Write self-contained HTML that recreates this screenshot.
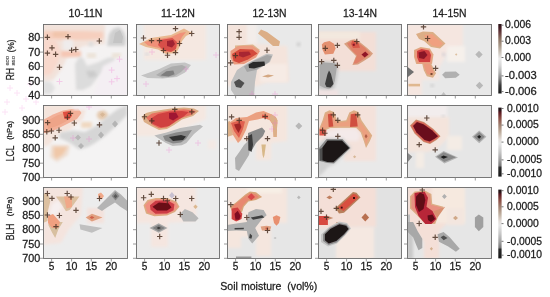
<!DOCTYPE html><html><head><meta charset="utf-8"><style>html,body{margin:0;padding:0;background:#fff;width:550px;height:297px;overflow:hidden}svg{display:block;will-change:transform}text{font-family:"Liberation Sans",sans-serif;fill:#1c1c1c;stroke:#1c1c1c;stroke-width:0.26px;paint-order:stroke}</style></head><body>
<svg width="550" height="297" viewBox="0 0 550 297">
<defs><linearGradient id="cb" x1="0" y1="0" x2="0" y2="1"><stop offset="0" stop-color="#2a1418"/><stop offset="0.05" stop-color="#3e1820"/><stop offset="0.13" stop-color="#6a4040"/><stop offset="0.21" stop-color="#8a7060"/><stop offset="0.31" stop-color="#a89888"/><stop offset="0.42" stop-color="#cfc8c0"/><stop offset="0.5" stop-color="#ebebeb"/><stop offset="0.6" stop-color="#d6d6d6"/><stop offset="0.7" stop-color="#b0b0b0"/><stop offset="0.79" stop-color="#808080"/><stop offset="0.88" stop-color="#3c3c3c"/><stop offset="1" stop-color="#181818"/></linearGradient><linearGradient id="cb2" x1="0" y1="0" x2="0" y2="1"><stop offset="0" stop-color="#1e1416"/><stop offset="0.04" stop-color="#2a1418"/><stop offset="0.07" stop-color="#5a1a22"/><stop offset="0.15" stop-color="#8a4a42"/><stop offset="0.25" stop-color="#a08070"/><stop offset="0.36" stop-color="#c0b0a0"/><stop offset="0.46" stop-color="#e2dcd8"/><stop offset="0.52" stop-color="#e6e6e6"/><stop offset="0.64" stop-color="#c8c8c8"/><stop offset="0.76" stop-color="#a0a0a0"/><stop offset="0.84" stop-color="#7a7a7a"/><stop offset="0.87" stop-color="#2a2a2a"/><stop offset="1" stop-color="#181818"/></linearGradient><filter id="bl" x="-5%" y="-5%" width="110%" height="110%"><feGaussianBlur stdDeviation="0.55"/></filter><filter id="bs" x="-20%" y="-20%" width="140%" height="140%"><feGaussianBlur stdDeviation="1.6"/></filter></defs>
<g stroke="#f070d0" stroke-width="1" fill="none" opacity="0.2" filter="url(#bl)">
<path d="M14 93H20M17 90V96"/>
<path d="M4 102H10M7 99V105"/>
<path d="M23 99H29M26 96V102"/>
<path d="M7 88H13M10 85V91"/>
<path d="M27 84H33M30 81V87"/>
<path d="M2 112H8M5 109V115"/>
<path d="M19 108H25M22 105V111"/>
<path d="M33 102H39M36 99V105"/>
</g>
<svg x="43" y="24" width="84" height="71" viewBox="0 0 84 71" overflow="hidden">
<rect x="0" y="0" width="84" height="71" fill="#f4f2f2"/>
<polygon filter="url(#bs)" fill="#f2e2da" points="0,0 62,0 62,20 40,22 24,34 18,46 10,56 0,58"/>
<polygon filter="url(#bs)" fill="#f6cfbe" points="0,7 42,7 60,8 60,15 42,16 0,16"/>
<polygon filter="url(#bs)" fill="#f0c4aa" points="10,8 25,8 25,13 10,13"/>
<polygon filter="url(#bs)" fill="#f8d8cc" points="0,16 13,16 18,30 14,40 8,50 0,52"/>
<polygon filter="url(#bs)" fill="#f5c6b4" points="18,27 38,27 38,33 18,33"/>
<polygon filter="url(#bs)" fill="#efecec" points="20,16 30,16 30,26 20,26"/>
<polygon filter="url(#bs)" fill="#d0d0d0" points="64,22 66,10 70,5 76,3 81,8 83,15 82,22"/>
<polygon filter="url(#bl)" fill="#c4c4c4" points="70,19 72,9 77,6 80,13 79,19"/>
<polygon filter="url(#bs)" fill="#dedede" points="46,18 50,18 51,21 48,23 45,21"/>
<polygon filter="url(#bs)" fill="#dcdcdc" points="32,40 36,33 40,34 44,42 56,38 64,34 72,33 72,40 62,48 55,53 48,62 40,66 33,66"/>
<polygon filter="url(#bs)" fill="#cbcbcb" points="43,47 52,47 54,52 46,54"/>
<polygon filter="url(#bs)" fill="#e0e0e0" points="0,57 8,58 12,64 8,70 0,70"/>
<polygon filter="url(#bs)" fill="#ece3d8" points="44,29 53,29 53,34 44,34"/>
<polygon filter="url(#bs)" fill="#ece3d8" points="69,29 78,29 78,34 69,34"/>
<polygon filter="url(#bs)" fill="#f4eff3" points="60,42 84,30 84,72 50,72"/>
<g filter="url(#bl)">
<g stroke="#f070d0" stroke-width="1" fill="none" opacity="0.3">
<path d="M73.5 35.2H79.5M76.5 32.2V38.2"/>
<path d="M65.7 46.1H71.7M68.7 43.1V49.1"/>
<path d="M13.5 57.5H19.5M16.5 54.5V60.5"/>
<path d="M65.7 57.8H71.7M68.7 54.8V60.8"/>
<path d="M71 54.6H77M74 51.6V57.6"/>
</g>
<g stroke="#4a3224" stroke-width="1.15" fill="none" opacity="0.85">
<path d="M1.7 13.3H7.1M4.4 10.6V16"/>
<path d="M22.3 12.6H27.7M25 9.9V15.3"/>
<path d="M53.6 17H59M56.3 14.3V19.7"/>
<path d="M6.3 23.8H11.7M9 21.1V26.5"/>
<path d="M1.7 29.1H7.1M4.4 26.4V31.8"/>
<path d="M9.9 30.3H15.3M12.6 27.6V33"/>
<path d="M25.9 26.2H31.3M28.6 23.5V28.9"/>
<path d="M30.1 25.5H35.5M32.8 22.8V28.2"/>
<path d="M13.8 43.2H19.2M16.5 40.5V45.9"/>
</g></g></svg>
<rect x="43.5" y="24.5" width="84" height="71" fill="none" stroke="#6a6a6a" stroke-width="0.9"/>
<line x1="51.6" y1="95.5" x2="51.6" y2="98.5" stroke="#808080" stroke-width="0.8"/>
<line x1="71.6" y1="95.5" x2="71.6" y2="98.5" stroke="#808080" stroke-width="0.8"/>
<line x1="91.3" y1="95.5" x2="91.3" y2="98.5" stroke="#808080" stroke-width="0.8"/>
<line x1="111.3" y1="95.5" x2="111.3" y2="98.5" stroke="#808080" stroke-width="0.8"/>
<line x1="40" y1="37.7" x2="43.5" y2="37.7" stroke="#808080" stroke-width="0.8"/>
<line x1="40" y1="52.1" x2="43.5" y2="52.1" stroke="#808080" stroke-width="0.8"/>
<line x1="40" y1="66.55" x2="43.5" y2="66.55" stroke="#808080" stroke-width="0.8"/>
<line x1="40" y1="81" x2="43.5" y2="81" stroke="#808080" stroke-width="0.8"/>
<line x1="40" y1="95.4" x2="43.5" y2="95.4" stroke="#808080" stroke-width="0.8"/>
<svg x="136" y="24" width="83" height="71" viewBox="0 0 83 71" overflow="hidden">
<rect x="0" y="0" width="83" height="71" fill="#ebebeb"/>
<polygon filter="url(#bs)" fill="#f5e8e1" points="8,0 70,0 70,36 8,36"/>
<polygon filter="url(#bl)" fill="#e9b890" points="3,20 15,14 35,11 45,6 48,4.5 56,9 50,12 46,17 43,24 40,29 30,30 22,25.5 10,23"/>
<polygon filter="url(#bl)" fill="#f09078" points="8,18 20,15.5 35,13 44,9 50,8 46,13 42,21 38.5,27 30,28.5 23,24 12,21.5"/>
<polygon filter="url(#bl)" fill="#d85048" points="24,16 36.4,14 41,18 40,25 35,28 27,26 22,21"/>
<polygon filter="url(#bl)" fill="#a02030" points="31,17 37,16 39,20 36,23.5 31,22"/>
<polygon filter="url(#bs)" fill="#d8d8dc" points="9,29 13,29 13,31.5 9,31.5"/>
<polygon filter="url(#bl)" fill="#c4c4c4" points="5,51.4 23.3,45 34.9,39.5 48.9,38.4 55,40.9 49,48.5 40.7,53.1 26.8,54.5 11.6,53.9"/>
<polygon filter="url(#bl)" fill="#acacac" points="20,51 28,46 36,42.5 46,41 50,43 45,48 38,52.5 26,53.5"/>
<polygon filter="url(#bl)" fill="#7e7e7e" points="24.4,51.4 30.3,47.3 37.3,46.5 38.6,50.2 32.6,52.6"/>
<g filter="url(#bl)">
<g stroke="#f070d0" stroke-width="1" fill="none" opacity="0.3">
<path d="M13 28H19M16 25V31"/>
<path d="M7 60H13M10 57V63"/>
<path d="M77 31H83M80 28V34"/>
<path d="M47 45H53M50 42V48"/>
</g>
<g stroke="#4a3224" stroke-width="1.15" fill="none" opacity="0.85">
<path d="M36.8 4.6H42.2M39.5 1.9V7.3"/>
<path d="M53 9.5H58.4M55.7 6.8V12.2"/>
<path d="M4.8 14H10.2M7.5 11.3V16.7"/>
<path d="M12.8 16.6H18.2M15.5 13.9V19.3"/>
<path d="M20.8 16.6H26.2M23.5 13.9V19.3"/>
<path d="M40.8 19.5H46.2M43.5 16.8V22.2"/>
<path d="M24.8 26.5H30.2M27.5 23.8V29.2"/>
<path d="M28.8 31.2H34.2M31.5 28.5V33.9"/>
<path d="M36.8 28.6H42.2M39.5 25.9V31.3"/>
</g></g></svg>
<rect x="136.5" y="24.5" width="83" height="71" fill="none" stroke="#6a6a6a" stroke-width="0.9"/>
<line x1="144.6" y1="95.5" x2="144.6" y2="98.5" stroke="#808080" stroke-width="0.8"/>
<line x1="164.6" y1="95.5" x2="164.6" y2="98.5" stroke="#808080" stroke-width="0.8"/>
<line x1="184.3" y1="95.5" x2="184.3" y2="98.5" stroke="#808080" stroke-width="0.8"/>
<line x1="204.3" y1="95.5" x2="204.3" y2="98.5" stroke="#808080" stroke-width="0.8"/>
<line x1="133" y1="37.7" x2="136.5" y2="37.7" stroke="#808080" stroke-width="0.8"/>
<line x1="133" y1="52.1" x2="136.5" y2="52.1" stroke="#808080" stroke-width="0.8"/>
<line x1="133" y1="66.55" x2="136.5" y2="66.55" stroke="#808080" stroke-width="0.8"/>
<line x1="133" y1="81" x2="136.5" y2="81" stroke="#808080" stroke-width="0.8"/>
<line x1="133" y1="95.4" x2="136.5" y2="95.4" stroke="#808080" stroke-width="0.8"/>
<svg x="227" y="24" width="84" height="71" viewBox="0 0 84 71" overflow="hidden">
<rect x="0" y="0" width="84" height="71" fill="#e9e9e9"/>
<polygon filter="url(#bs)" fill="#f4e4dc" points="0,0 20,0 30,20 60,22 62,58 40,58 30,62 0,62"/>
<polygon filter="url(#bs)" fill="#f3edea" points="20,0 30,0 30,20 20,20"/>
<polygon filter="url(#bs)" fill="#f6ebe5" points="33,40 60,40 60,58 33,58"/>
<polygon filter="url(#bl)" fill="#dcae86" points="31,9.5 34,5.5 40,8 53,17.5 52,22 46,22 38,15"/>
<polygon filter="url(#bl)" fill="#dcb890" points="8,21.5 26,20.5 33,26 8,26"/>
<polygon filter="url(#bl)" fill="#eb9a7e" points="3.5,27 11,22 25,21.5 33,27 29,33.5 17,40 7,40.5 3.5,34"/>
<polygon filter="url(#bl)" fill="#d4483a" points="5,30 13,25 25.5,25.5 30.5,29.5 21,35.5 12,39 6.5,37"/>
<polygon filter="url(#bl)" fill="#a82830" points="12,28 22,27.5 24,30.5 16,33.5 12,32"/>
<polygon filter="url(#bl)" fill="#c0c0c0" points="4,58 10,46 20,39.5 40,29.5 46,30.5 43,38 30,46 28,58 27,72 8,72 4,66"/>
<polygon filter="url(#bl)" fill="#a4a4a4" points="17,42.5 24,38 40,31 45,32 42,38 29,46 20,48"/>
<polygon filter="url(#bl)" fill="#2a2a2a" points="21.5,40.5 26,38 37.5,37.5 38,41.5 27,44.5 22,44"/>
<polygon filter="url(#bl)" fill="#505050" points="7,58 12,55 17.5,59 14,64 9,63"/>
<polygon filter="url(#bs)" fill="#c8c8c8" points="69.2,20.3 71.6,17.9 74,20.3 71.6,22.7"/>
<polygon filter="url(#bl)" fill="#d4a882" points="35,52.5 41,50.5 47,51.5 41,53.5"/>
<g filter="url(#bl)">
<g stroke="#f070d0" stroke-width="1" fill="none" opacity="0.3">
<path d="M22 70H28M25 67V73"/>
<path d="M45 70H51M48 67V73"/>
</g>
<g stroke="#4a3224" stroke-width="1.15" fill="none" opacity="0.85">
<path d="M9.4 7.6H14.8M12.1 4.9V10.3"/>
<path d="M9.4 13.3H14.8M12.1 10.6V16"/>
<path d="M37.3 26.2H42.7M40 23.5V28.9"/>
<path d="M5.8 31.6H11.2M8.5 28.9V34.3"/>
<path d="M0.9 38.8H6.3M3.6 36.1V41.5"/>
</g></g></svg>
<rect x="227.5" y="24.5" width="84" height="71" fill="none" stroke="#6a6a6a" stroke-width="0.9"/>
<line x1="235.6" y1="95.5" x2="235.6" y2="98.5" stroke="#808080" stroke-width="0.8"/>
<line x1="255.6" y1="95.5" x2="255.6" y2="98.5" stroke="#808080" stroke-width="0.8"/>
<line x1="275.3" y1="95.5" x2="275.3" y2="98.5" stroke="#808080" stroke-width="0.8"/>
<line x1="295.3" y1="95.5" x2="295.3" y2="98.5" stroke="#808080" stroke-width="0.8"/>
<line x1="224" y1="37.7" x2="227.5" y2="37.7" stroke="#808080" stroke-width="0.8"/>
<line x1="224" y1="52.1" x2="227.5" y2="52.1" stroke="#808080" stroke-width="0.8"/>
<line x1="224" y1="66.55" x2="227.5" y2="66.55" stroke="#808080" stroke-width="0.8"/>
<line x1="224" y1="81" x2="227.5" y2="81" stroke="#808080" stroke-width="0.8"/>
<line x1="224" y1="95.4" x2="227.5" y2="95.4" stroke="#808080" stroke-width="0.8"/>
<svg x="318" y="24" width="83" height="71" viewBox="0 0 83 71" overflow="hidden">
<rect x="0" y="0" width="83" height="71" fill="#e4e4e4"/>
<polygon filter="url(#bs)" fill="#f3dfd7" points="0,8 58,8 58,47 20,47 0,47"/>
<polygon filter="url(#bs)" fill="#f3e9df" points="0,8 42,8 42,15 0,15"/>
<polygon filter="url(#bl)" fill="#e49070" points="3.8,20.6 6.1,18.3 11.5,17.1 16,19.8 17.6,24.4 15.3,29.8 6.9,30.5 4.6,26"/>
<polygon filter="url(#bl)" fill="#d8a080" points="26,19.8 32.8,16 36.6,15.3 42,18.3 48.9,23.7 55,29.5 52,33 45.8,37 40,40.5 34.4,41 38,32 31,25"/>
<polygon filter="url(#bl)" fill="#e08068" points="29,19.5 34,16.8 40,18.5 47,23.8 52.5,29.5 50,32 45,35.5 38.5,39.5 35.5,39.5 39,31.5 33,25.5"/>
<polygon filter="url(#bl)" fill="#d85848" points="34.4,16.5 40,18 42,23.7 35,24 33,20"/>
<polygon filter="url(#bl)" fill="#8a1626" points="34.5,20 36.5,19.5 37,21.5 35,22"/>
<polygon filter="url(#bl)" fill="#901828" points="43.5,30.5 47.3,27.5 50.4,30.5 46.6,33.6"/>
<polygon filter="url(#bs)" fill="#c8c8c8" points="0,39.5 6,37 17.5,38 21,41.5 18.5,57 16,65 11,68 4,67 0,64"/>
<polygon filter="url(#bl)" fill="#a8a8a8" points="1.5,40.5 6.1,38.6 16.8,39.3 19.1,41.6 16.8,56.9 14.5,63 10.7,65.3 6.1,63.8 1.5,61.5"/>
<polygon filter="url(#bl)" fill="#3a3a3a" points="11,46.5 13,50 15.5,60 12.5,63.5 8.5,63 7,60 9.5,50"/>
<polygon filter="url(#bs)" fill="#f0e2e2" points="0,66 20,66 20,72 0,72"/>
<g filter="url(#bl)">
<g stroke="#f070d0" stroke-width="1" fill="none" opacity="0.3">
</g>
<g stroke="#4a3224" stroke-width="1.15" fill="none" opacity="0.85">
<path d="M4.6 24.3H10M7.3 21.6V27"/>
<path d="M16.7 21.4H22.1M19.4 18.7V24.1"/>
<path d="M36.1 17.5H41.5M38.8 14.8V20.2"/>
<path d="M0.9 37.6H6.3M3.6 34.9V40.3"/>
<path d="M13.1 36.4H18.5M15.8 33.7V39.1"/>
<path d="M16.7 41.3H22.1M19.4 38.6V44"/>
</g></g></svg>
<rect x="318.5" y="24.5" width="83" height="71" fill="none" stroke="#6a6a6a" stroke-width="0.9"/>
<line x1="326.6" y1="95.5" x2="326.6" y2="98.5" stroke="#808080" stroke-width="0.8"/>
<line x1="346.6" y1="95.5" x2="346.6" y2="98.5" stroke="#808080" stroke-width="0.8"/>
<line x1="366.3" y1="95.5" x2="366.3" y2="98.5" stroke="#808080" stroke-width="0.8"/>
<line x1="386.3" y1="95.5" x2="386.3" y2="98.5" stroke="#808080" stroke-width="0.8"/>
<line x1="315" y1="37.7" x2="318.5" y2="37.7" stroke="#808080" stroke-width="0.8"/>
<line x1="315" y1="52.1" x2="318.5" y2="52.1" stroke="#808080" stroke-width="0.8"/>
<line x1="315" y1="66.55" x2="318.5" y2="66.55" stroke="#808080" stroke-width="0.8"/>
<line x1="315" y1="81" x2="318.5" y2="81" stroke="#808080" stroke-width="0.8"/>
<line x1="315" y1="95.4" x2="318.5" y2="95.4" stroke="#808080" stroke-width="0.8"/>
<svg x="407" y="24" width="84" height="71" viewBox="0 0 84 71" overflow="hidden">
<rect x="0" y="0" width="84" height="71" fill="#e8e8e8"/>
<polygon filter="url(#bs)" fill="#f5e6e0" points="0,0 56,0 56,22 42,26 32,44 32,56 15,56 15,72 0,72"/>
<polygon filter="url(#bs)" fill="#f6f0eb" points="40,22 58,22 58,38 40,38"/>
<polygon filter="url(#bl)" fill="#dcae86" points="9,10 16,7.5 26,8 38.5,19.5 33,24.5 24,23 17,17 12,15"/>
<polygon filter="url(#bl)" fill="#f0a080" points="17,11 25,10 36,19.5 32,23 25,21.5 20,16"/>
<polygon filter="url(#bl)" fill="#dcae86" points="7,26 13.7,23 22.9,24.5 26.5,30.5 25,40 9.2,40 7,33"/>
<polygon filter="url(#bl)" fill="#eb9a7e" points="8,26.5 13.7,23.8 22.5,25.3 25.5,30.5 24.5,39.5 10,39.5 8,33"/>
<polygon filter="url(#bl)" fill="#d04040" points="10,27 14.5,25 22,26.5 24,31 23,38 12,38 10,33"/>
<polygon filter="url(#bl)" fill="#8a1626" points="11.5,28.5 17.5,27 20.5,31 17,35 12,34"/>
<polygon filter="url(#bl)" fill="#dcae86" points="15.3,40 24.4,40 29,49.3 26,53.8 19.8,52.3 16.8,46.2"/>
<polygon filter="url(#bl)" fill="#eb9a7e" points="16.5,40 23,40 27,48.5 24.5,51.5 20,50 18,45"/>
<polygon filter="url(#bl)" fill="#7a4a30" points="23.5,49 25.5,49 25.5,51 23.5,51"/>
<polygon filter="url(#bl)" fill="#707070" points="0,42.4 7,48 0,53.8"/>
<polygon filter="url(#bl)" fill="#b0b0b0" points="35.1,50.8 38.2,47.7 48.9,47.4 52.7,50.8 48.9,53.8 38.2,54.2"/>
<polygon filter="url(#bl)" fill="#e0b890" points="1.5,59.8 13,59.8 13,62.4 1.5,62.4"/>
<polygon filter="url(#bs)" fill="#c8c8d0" points="34.8,30.5 36.6,28.5 38.4,30.5 36.6,32.5"/>
<polygon filter="url(#bl)" fill="#dcc0a0" points="48,30.5 49.2,29.3 50.4,30.5 49.2,31.7"/>
<polygon filter="url(#bl)" fill="#b8b8b8" points="68.3,30.5 72,26.8 75.7,30.5 72,34.2"/>
<polygon filter="url(#bl)" fill="#b8b8b8" points="68.8,61.5 72.5,57.8 76.2,61.5 72.5,65.2"/>
<polygon filter="url(#bs)" fill="#c8c8c8" points="23,61.5 25.2,59.8 27.4,61.5 25.2,63.2"/>
<polygon filter="url(#bl)" fill="#c0c0c0" points="33.5,72 36.6,68 39.7,72"/>
<g filter="url(#bl)">
<g stroke="#f070d0" stroke-width="1" fill="none" opacity="0.3">
</g>
<g stroke="#4a3224" stroke-width="1.15" fill="none" opacity="0.85">
<path d="M13.8 2.9H19.2M16.5 0.2V5.6"/>
<path d="M17.9 14.5H23.3M20.6 11.8V17.2"/>
<path d="M25.9 44.3H31.3M28.6 41.6V47"/>
</g></g></svg>
<rect x="407.5" y="24.5" width="84" height="71" fill="none" stroke="#6a6a6a" stroke-width="0.9"/>
<line x1="415.6" y1="95.5" x2="415.6" y2="98.5" stroke="#808080" stroke-width="0.8"/>
<line x1="435.6" y1="95.5" x2="435.6" y2="98.5" stroke="#808080" stroke-width="0.8"/>
<line x1="455.3" y1="95.5" x2="455.3" y2="98.5" stroke="#808080" stroke-width="0.8"/>
<line x1="475.3" y1="95.5" x2="475.3" y2="98.5" stroke="#808080" stroke-width="0.8"/>
<line x1="404" y1="37.7" x2="407.5" y2="37.7" stroke="#808080" stroke-width="0.8"/>
<line x1="404" y1="52.1" x2="407.5" y2="52.1" stroke="#808080" stroke-width="0.8"/>
<line x1="404" y1="66.55" x2="407.5" y2="66.55" stroke="#808080" stroke-width="0.8"/>
<line x1="404" y1="81" x2="407.5" y2="81" stroke="#808080" stroke-width="0.8"/>
<line x1="404" y1="95.4" x2="407.5" y2="95.4" stroke="#808080" stroke-width="0.8"/>
<text x="40.3" y="41.4" font-size="10.4" text-anchor="end" textLength="12" lengthAdjust="spacingAndGlyphs">80</text>
<text x="40.3" y="55.8" font-size="10.4" text-anchor="end" textLength="12" lengthAdjust="spacingAndGlyphs">70</text>
<text x="40.3" y="70.25" font-size="10.4" text-anchor="end" textLength="12" lengthAdjust="spacingAndGlyphs">60</text>
<text x="40.3" y="84.7" font-size="10.4" text-anchor="end" textLength="12" lengthAdjust="spacingAndGlyphs">50</text>
<text x="40.3" y="99.1" font-size="10.4" text-anchor="end" textLength="12" lengthAdjust="spacingAndGlyphs">40</text>
<rect x="498.3" y="24" width="3.3" height="69.5" fill="url(#cb)"/>
<line x1="501.5" y1="25.2" x2="503.5" y2="25.2" stroke="#555" stroke-width="0.8"/>
<text x="505" y="28.4" font-size="10.1" textLength="26" lengthAdjust="spacingAndGlyphs">0.006</text>
<line x1="501.5" y1="41.2" x2="503.5" y2="41.2" stroke="#555" stroke-width="0.8"/>
<text x="505" y="44.4" font-size="10.1" textLength="26" lengthAdjust="spacingAndGlyphs">0.003</text>
<line x1="501.5" y1="57.5" x2="503.5" y2="57.5" stroke="#555" stroke-width="0.8"/>
<text x="505" y="60.7" font-size="10.1" textLength="26" lengthAdjust="spacingAndGlyphs">0.000</text>
<line x1="501.5" y1="75.9" x2="503.5" y2="75.9" stroke="#555" stroke-width="0.8"/>
<text x="505" y="79.1" font-size="10.1" textLength="31.7" lengthAdjust="spacingAndGlyphs">-0.003</text>
<line x1="501.5" y1="91.6" x2="503.5" y2="91.6" stroke="#555" stroke-width="0.8"/>
<text x="505" y="94.8" font-size="10.1" textLength="31.7" lengthAdjust="spacingAndGlyphs">-0.006</text>
<svg x="43" y="105" width="84" height="72" viewBox="0 0 84 72" overflow="hidden">
<rect x="0" y="0" width="84" height="72" fill="#f4f3f3"/>
<polygon filter="url(#bs)" fill="#f4e4dc" points="0,0 44,0 40,14 28,24 14,31 6,40 0,42"/>
<polygon filter="url(#bl)" fill="#f2b098" points="0,15 10,9.5 20,5.5 35,3 38.5,8 34,14 22,20 12,25 3,28 0,28"/>
<polygon filter="url(#bl)" fill="#eea488" points="4,16 14,10.5 24,7 30,9 24,16 14,21 5,24"/>
<polygon filter="url(#bl)" fill="#e05040" points="19.8,6.9 26.7,6.1 29,10.7 26,14.5 21.4,13.7"/>
<polygon filter="url(#bs)" fill="#e4c8ac" points="53.5,10 56,6 60,5 64.5,8 65,12 61,15 56,14.5"/>
<polygon filter="url(#bl)" fill="#d8b898" points="57,9.5 59.5,7.5 62,9.5 59.5,12"/>
<polygon filter="url(#bs)" fill="#f0d8c0" points="38.2,17 48.9,17 48.9,22.9 38.2,22.9"/>
<polygon filter="url(#bs)" fill="#d6d6d6" points="17,27.5 30,25.5 42,27 53,21 64,12 75,4 84,0 84,10 72,22 62,31 52,38 45,42 36,44.5 28,38.5 20,34.5 16,33"/>
<polygon filter="url(#bl)" fill="#b4b4b4" points="69,19 72,15.5 75,19 72,22.5"/>
<polygon filter="url(#bl)" fill="#b4b4b4" points="55,30 58,26.5 61,30 58,33.5"/>
<polygon filter="url(#bl)" fill="#b8b8b8" points="32,32.6 35,29.5 38,32.6 35,35.5"/>
<polygon filter="url(#bl)" fill="#b4b4b4" points="35,41 38,38 41,41 38,44"/>
<polygon filter="url(#bs)" fill="#efded1" points="8,40 27,40 25,50 14,57 7,52"/>
<polygon filter="url(#bs)" fill="#f0c8a8" points="10.7,41.9 24.4,41.9 19.8,49.5 13,54 10.7,50.3"/>
<polygon filter="url(#bs)" fill="#f4eff2" points="30,0 60,0 60,5 30,5"/>
<g filter="url(#bl)">
<g stroke="#f070d0" stroke-width="1" fill="none" opacity="0.3">
<path d="M43 2H49M46 -1V5"/>
<path d="M43 34H49M46 31V37"/>
<path d="M27 33H33M30 30V36"/>
</g>
<g stroke="#4a3224" stroke-width="1.15" fill="none" opacity="0.85">
<path d="M24.8 8.4H30.2M27.5 5.7V11.1"/>
<path d="M21.7 12.2H27.1M24.4 9.5V14.9"/>
<path d="M1.9 17.6H7.3M4.6 14.9V20.3"/>
<path d="M28.6 18H34M31.3 15.3V20.7"/>
<path d="M53.8 19.8H59.2M56.5 17.1V22.5"/>
<path d="M1.1 26.7H6.5M3.8 24V29.4"/>
<path d="M5.7 26H11.1M8.4 23.3V28.7"/>
<path d="M13.3 25.2H18.7M16 22.5V27.9"/>
<path d="M9.5 32.8H14.9M12.2 30.1V35.5"/>
</g></g></svg>
<rect x="43.5" y="105.5" width="84" height="72" fill="none" stroke="#6a6a6a" stroke-width="0.9"/>
<line x1="51.6" y1="177.5" x2="51.6" y2="180.5" stroke="#808080" stroke-width="0.8"/>
<line x1="71.6" y1="177.5" x2="71.6" y2="180.5" stroke="#808080" stroke-width="0.8"/>
<line x1="91.3" y1="177.5" x2="91.3" y2="180.5" stroke="#808080" stroke-width="0.8"/>
<line x1="111.3" y1="177.5" x2="111.3" y2="180.5" stroke="#808080" stroke-width="0.8"/>
<line x1="40" y1="119.8" x2="43.5" y2="119.8" stroke="#808080" stroke-width="0.8"/>
<line x1="40" y1="134.3" x2="43.5" y2="134.3" stroke="#808080" stroke-width="0.8"/>
<line x1="40" y1="148.75" x2="43.5" y2="148.75" stroke="#808080" stroke-width="0.8"/>
<line x1="40" y1="163.2" x2="43.5" y2="163.2" stroke="#808080" stroke-width="0.8"/>
<line x1="40" y1="177.7" x2="43.5" y2="177.7" stroke="#808080" stroke-width="0.8"/>
<svg x="136" y="105" width="83" height="72" viewBox="0 0 83 72" overflow="hidden">
<rect x="0" y="0" width="83" height="72" fill="#ececec"/>
<polygon filter="url(#bs)" fill="#f5e8e1" points="0,0 70,0 70,14 50,22 35,30 20,31 0,31"/>
<polygon filter="url(#bl)" fill="#dcae86" points="6,12 10,8 16,6.5 25,5 35,3.5 48,2.5 58,3.5 63,6 57,11 46,14.5 38,20 31,24 23,25 15,21 8,17"/>
<polygon filter="url(#bl)" fill="#e87060" points="10,12.5 16,8.5 25,6.8 35,5.2 48,4.2 57,5.2 60,6.5 55,10 45,13 37,18.5 30.5,22.5 23,23.3 16,19.5"/>
<polygon filter="url(#bl)" fill="#d04040" points="14,14 22,9 33.6,6.5 46,6 53,7 47,12 40,16 33,21 25,22.5 17,19"/>
<polygon filter="url(#bl)" fill="#a01830" points="33,8 40,7.5 42.5,12 37,15.5 33,13.5"/>
<polygon filter="url(#bl)" fill="#bcbcbc" points="18.3,30.5 30.5,27.5 44.3,22.9 64,19.8 67,21.4 58,29 50.4,38 45.8,40.3 36.6,41.1 30,38 22,33"/>
<polygon filter="url(#bl)" fill="#888888" points="27,31 40,27.5 56,25 50,34 45,37.5 37,38.5 29,35.5"/>
<polygon filter="url(#bl)" fill="#303030" points="33,32 45,30 50,31.5 47,35 37,36"/>
<polygon filter="url(#bs)" fill="#f4e9e4" points="72,35 80,35 80,44 72,44"/>
<g filter="url(#bl)">
<g stroke="#f070d0" stroke-width="1" fill="none" opacity="0.3">
<path d="M30 45H36M33 42V48"/>
<path d="M59 38H65M62 35V41"/>
</g>
<g stroke="#4a3224" stroke-width="1.15" fill="none" opacity="0.85">
<path d="M5.8 11.7H11.2M8.5 9V14.4"/>
<path d="M13.1 15.8H18.5M15.8 13.1V18.5"/>
<path d="M36.1 4.4H41.5M38.8 1.7V7.1"/>
<path d="M53.1 6.8H58.5M55.8 4.1V9.5"/>
<path d="M20.3 38H25.7M23 35.3V40.7"/>
</g></g></svg>
<rect x="136.5" y="105.5" width="83" height="72" fill="none" stroke="#6a6a6a" stroke-width="0.9"/>
<line x1="144.6" y1="177.5" x2="144.6" y2="180.5" stroke="#808080" stroke-width="0.8"/>
<line x1="164.6" y1="177.5" x2="164.6" y2="180.5" stroke="#808080" stroke-width="0.8"/>
<line x1="184.3" y1="177.5" x2="184.3" y2="180.5" stroke="#808080" stroke-width="0.8"/>
<line x1="204.3" y1="177.5" x2="204.3" y2="180.5" stroke="#808080" stroke-width="0.8"/>
<line x1="133" y1="119.8" x2="136.5" y2="119.8" stroke="#808080" stroke-width="0.8"/>
<line x1="133" y1="134.3" x2="136.5" y2="134.3" stroke="#808080" stroke-width="0.8"/>
<line x1="133" y1="148.75" x2="136.5" y2="148.75" stroke="#808080" stroke-width="0.8"/>
<line x1="133" y1="163.2" x2="136.5" y2="163.2" stroke="#808080" stroke-width="0.8"/>
<line x1="133" y1="177.7" x2="136.5" y2="177.7" stroke="#808080" stroke-width="0.8"/>
<svg x="227" y="105" width="84" height="72" viewBox="0 0 84 72" overflow="hidden">
<rect x="0" y="0" width="84" height="72" fill="#e9e9e9"/>
<polygon filter="url(#bs)" fill="#f5e6de" points="0,0 60,0 60,36 44,38 44,55 29,55 29,36 0,36"/>
<polygon filter="url(#bl)" fill="#dcb088" points="0,17 3,16 6,30 0,32"/>
<polygon filter="url(#bl)" fill="#eba080" points="2,18 9,13 20,12 29,7.6 36.6,6.1 44.3,9.2 48.9,12.2 50.4,15.3 49.6,32 46.6,32 45.8,19.8 42.7,15.3 36.6,13 30.5,14.5 22,16 19,25 14,35 11,38 6,30"/>
<polygon filter="url(#bl)" fill="#dcb088" points="44,9 48.9,12.2 50.4,15.3 49.6,32 46.6,32 45.8,19.8 42.7,14"/>
<polygon filter="url(#bl)" fill="#e06050" points="4,18 12,15.5 18,16.5 16,24 12,33 7,26"/>
<polygon filter="url(#bl)" fill="#a02828" points="7,19.5 13,18 14.5,22 11.5,28 9,24"/>
<polygon filter="url(#bl)" fill="#e06050" points="35,9.5 41,10.5 41,13.5 35,13"/>
<polygon filter="url(#bl)" fill="#b0b0b0" points="8.5,64 8,53 13,46 17,40 21,36 24,40 22,50 17,58 12,66"/>
<polygon filter="url(#bl)" fill="#8a8a8a" points="21,28 35,22.5 38.2,26 36,31 29,38 25,45 21,46"/>
<polygon filter="url(#bl)" fill="#3a3a3a" points="21.2,31 25,29 26,40 24.5,47 21.5,45"/>
<polygon filter="url(#bl)" fill="#d8b888" points="34.4,39.6 38.9,39.6 37.5,50 36.5,53.3 35.5,50"/>
<polygon filter="url(#bl)" fill="#b8b8b8" points="68.3,21.1 71.8,17.6 75.3,21.1 71.8,24.6"/>
<g filter="url(#bl)">
<g stroke="#f070d0" stroke-width="1" fill="none" opacity="0.3">
<path d="M45 10H51M48 7V13"/>
<path d="M45 18H51M48 15V21"/>
<path d="M42 24H48M45 21V27"/>
</g>
<g stroke="#4a3224" stroke-width="1.15" fill="none" opacity="0.85">
<path d="M1.9 11.9H7.3M4.6 9.2V14.6"/>
<path d="M9.5 15.3H14.9M12.2 12.6V18"/>
<path d="M35.5 11.5H40.9M38.2 8.8V14.2"/>
<path d="M17.1 33.6H22.5M19.8 30.9V36.3"/>
<path d="M37.8 33.6H43.2M40.5 30.9V36.3"/>
</g></g></svg>
<rect x="227.5" y="105.5" width="84" height="72" fill="none" stroke="#6a6a6a" stroke-width="0.9"/>
<line x1="235.6" y1="177.5" x2="235.6" y2="180.5" stroke="#808080" stroke-width="0.8"/>
<line x1="255.6" y1="177.5" x2="255.6" y2="180.5" stroke="#808080" stroke-width="0.8"/>
<line x1="275.3" y1="177.5" x2="275.3" y2="180.5" stroke="#808080" stroke-width="0.8"/>
<line x1="295.3" y1="177.5" x2="295.3" y2="180.5" stroke="#808080" stroke-width="0.8"/>
<line x1="224" y1="119.8" x2="227.5" y2="119.8" stroke="#808080" stroke-width="0.8"/>
<line x1="224" y1="134.3" x2="227.5" y2="134.3" stroke="#808080" stroke-width="0.8"/>
<line x1="224" y1="148.75" x2="227.5" y2="148.75" stroke="#808080" stroke-width="0.8"/>
<line x1="224" y1="163.2" x2="227.5" y2="163.2" stroke="#808080" stroke-width="0.8"/>
<line x1="224" y1="177.7" x2="227.5" y2="177.7" stroke="#808080" stroke-width="0.8"/>
<svg x="318" y="105" width="83" height="72" viewBox="0 0 83 72" overflow="hidden">
<rect x="0" y="0" width="83" height="72" fill="#e9e9e9"/>
<polygon filter="url(#bs)" fill="#f4e2db" points="0,0 58,0 58,56 26,56 26,36 0,36"/>
<polygon filter="url(#bl)" fill="#dcae86" points="1.5,22.9 4.6,15.3 6.9,7.6 11.5,5.3 16,6.9 19.1,15.3 22.9,16 28.2,15.3 31.3,7.6 35.9,5.3 40.5,6.9 43.5,15.3 48.9,22.9 54.2,30.5 51.9,36 48,43 45.8,36 42.7,27.5 38.2,22.9 30.5,22.9 19.8,22.9 12.2,22.9 6.1,26 1.5,30.5"/>
<polygon filter="url(#bl)" fill="#eba080" points="3,22 6,15 8,9 11.5,7 15,8.5 17.5,16 22.9,17.5 29,16.5 32.5,9 35.9,7 39.5,8.5 42,16 47,23 52.5,30.5 50,35 48,40 47,35 44,27 39,21.5 30.5,21.5 19.8,21.5 12.2,21.5 6.1,24.5 3,28"/>
<polygon filter="url(#bl)" fill="#d05040" points="9.9,9.2 13.7,8.4 15.3,21.4 10.7,22.1"/>
<polygon filter="url(#bl)" fill="#d05040" points="32.8,9.2 38.2,8.4 39.7,21.4 32,22.1"/>
<polygon filter="url(#bl)" fill="#e05848" points="1.5,23.7 8.4,25 8.4,30.5 1.5,30.5"/>
<polygon filter="url(#bl)" fill="#b06048" points="46.6,31.3 48,29 49.6,31.3 48,33.6"/>
<polygon filter="url(#bs)" fill="#f4eaea" points="8,27 20,24 38,24 42,30 40,36 8,36"/>
<polygon filter="url(#bs)" fill="#d0d0d0" points="0,40 8,33 25,33 33.5,43 17,59 10,62 5,68 0,72"/>
<polygon filter="url(#bl)" fill="#8a8a8a" points="1,43 8.5,34 24.5,34 32.5,43 16,58.5 9.2,58 1.5,56"/>
<polygon filter="url(#bl)" fill="#1c1818" points="3,44.5 9.5,35.5 24,35.5 31.3,43 15.5,57.2 9.2,57 3.2,55"/>
<polygon filter="url(#bl)" fill="#505050" points="1.5,44 4.5,43 4.5,55 1.5,56"/>
<polygon filter="url(#bl)" fill="#d8b898" points="35,51.8 36.6,50.3 38.2,51.8 36.6,53.3"/>
<g filter="url(#bl)">
<g stroke="#f070d0" stroke-width="1" fill="none" opacity="0.3">
</g>
<g stroke="#4a3224" stroke-width="1.15" fill="none" opacity="0.85">
<path d="M12.6 9.9H18M15.3 7.2V12.6"/>
<path d="M17.1 15.3H22.5M19.8 12.6V18"/>
<path d="M37 9.9H42.4M39.7 7.2V12.6"/>
<path d="M1.9 25.2H7.3M4.6 22.5V27.9"/>
<path d="M4.2 28.2H9.6M6.9 25.5V30.9"/>
<path d="M17.1 31.3H22.5M19.8 28.6V34"/>
</g></g></svg>
<rect x="318.5" y="105.5" width="83" height="72" fill="none" stroke="#6a6a6a" stroke-width="0.9"/>
<line x1="326.6" y1="177.5" x2="326.6" y2="180.5" stroke="#808080" stroke-width="0.8"/>
<line x1="346.6" y1="177.5" x2="346.6" y2="180.5" stroke="#808080" stroke-width="0.8"/>
<line x1="366.3" y1="177.5" x2="366.3" y2="180.5" stroke="#808080" stroke-width="0.8"/>
<line x1="386.3" y1="177.5" x2="386.3" y2="180.5" stroke="#808080" stroke-width="0.8"/>
<line x1="315" y1="119.8" x2="318.5" y2="119.8" stroke="#808080" stroke-width="0.8"/>
<line x1="315" y1="134.3" x2="318.5" y2="134.3" stroke="#808080" stroke-width="0.8"/>
<line x1="315" y1="148.75" x2="318.5" y2="148.75" stroke="#808080" stroke-width="0.8"/>
<line x1="315" y1="163.2" x2="318.5" y2="163.2" stroke="#808080" stroke-width="0.8"/>
<line x1="315" y1="177.7" x2="318.5" y2="177.7" stroke="#808080" stroke-width="0.8"/>
<svg x="407" y="105" width="84" height="72" viewBox="0 0 84 72" overflow="hidden">
<rect x="0" y="0" width="84" height="72" fill="#e6e6e6"/>
<polygon filter="url(#bs)" fill="#f2eded" points="0,0 40,0 40,14 0,14"/>
<polygon filter="url(#bs)" fill="#f4e4dc" points="0,12 42,12 42,32 30,44 20,47 0,47"/>
<polygon filter="url(#bs)" fill="#f4ece5" points="40,31 55,31 55,45 40,45"/>
<polygon filter="url(#bs)" fill="#f4ece5" points="9,47 17,47 17,63 9,63"/>
<polygon filter="url(#bl)" fill="#c89070" points="3,20.6 9,14.5 17,17 26.5,24 33.5,31.3 29.5,35 23,39 16.5,37 7.5,28.5"/>
<polygon filter="url(#bl)" fill="#d86858" points="4,20.7 9.4,15.5 16.8,17.8 25.8,24.4 32.6,31.3 29,34.3 22.9,38.2 16.8,36.3 8,28"/>
<polygon filter="url(#bl)" fill="#6a0a1c" points="6,21 10,17 16.5,19.2 25,25.3 31,31.3 28,33.4 22.7,36.6 17.5,35 9.5,27.5"/>
<polygon filter="url(#bs)" fill="#c8c8c8" points="34.5,11 36.3,9.8 38.1,11 36.3,12.2"/>
<polygon filter="url(#bl)" fill="#b4b4b4" points="65,31.8 72.2,25.4 79.4,31.8 72.2,38.2"/>
<polygon filter="url(#bl)" fill="#888888" points="66.8,31.8 72.2,27 77.6,31.8 72.2,36.6"/>
<polygon filter="url(#bl)" fill="#1e1e1e" points="70.2,31.8 72.2,29.9 74.2,31.8 72.2,33.7"/>
<polygon filter="url(#bl)" fill="#b4b4b4" points="28,51.8 36.6,46 51,52.4 37.4,58.5"/>
<polygon filter="url(#bl)" fill="#888888" points="29.8,51.8 36.6,47.3 49,52.3 37.3,57"/>
<polygon filter="url(#bl)" fill="#1e1e1e" points="33.5,52.1 36.6,50.4 40.8,52.1 36.6,53.8"/>
<polygon filter="url(#bl)" fill="#8a8a8a" points="0,47.2 5.3,51.8 0,57.9"/>
<g filter="url(#bl)">
<g stroke="#f070d0" stroke-width="1" fill="none" opacity="0.3">
</g>
<g stroke="#4a3224" stroke-width="1.15" fill="none" opacity="0.85">
<path d="M17.1 13H22.5M19.8 10.3V15.7"/>
<path d="M9.5 39.6H14.9M12.2 36.9V42.3"/>
<path d="M25.5 44.9H30.9M28.2 42.2V47.6"/>
</g></g></svg>
<rect x="407.5" y="105.5" width="84" height="72" fill="none" stroke="#6a6a6a" stroke-width="0.9"/>
<line x1="415.6" y1="177.5" x2="415.6" y2="180.5" stroke="#808080" stroke-width="0.8"/>
<line x1="435.6" y1="177.5" x2="435.6" y2="180.5" stroke="#808080" stroke-width="0.8"/>
<line x1="455.3" y1="177.5" x2="455.3" y2="180.5" stroke="#808080" stroke-width="0.8"/>
<line x1="475.3" y1="177.5" x2="475.3" y2="180.5" stroke="#808080" stroke-width="0.8"/>
<line x1="404" y1="119.8" x2="407.5" y2="119.8" stroke="#808080" stroke-width="0.8"/>
<line x1="404" y1="134.3" x2="407.5" y2="134.3" stroke="#808080" stroke-width="0.8"/>
<line x1="404" y1="148.75" x2="407.5" y2="148.75" stroke="#808080" stroke-width="0.8"/>
<line x1="404" y1="163.2" x2="407.5" y2="163.2" stroke="#808080" stroke-width="0.8"/>
<line x1="404" y1="177.7" x2="407.5" y2="177.7" stroke="#808080" stroke-width="0.8"/>
<text x="40.3" y="123.5" font-size="10.4" text-anchor="end" textLength="18" lengthAdjust="spacingAndGlyphs">900</text>
<text x="40.3" y="138" font-size="10.4" text-anchor="end" textLength="18" lengthAdjust="spacingAndGlyphs">850</text>
<text x="40.3" y="152.45" font-size="10.4" text-anchor="end" textLength="18" lengthAdjust="spacingAndGlyphs">800</text>
<text x="40.3" y="166.9" font-size="10.4" text-anchor="end" textLength="18" lengthAdjust="spacingAndGlyphs">750</text>
<text x="40.3" y="181.4" font-size="10.4" text-anchor="end" textLength="18" lengthAdjust="spacingAndGlyphs">700</text>
<rect x="498.3" y="107.6" width="3.3" height="69" fill="url(#cb2)"/>
<line x1="501.5" y1="108.5" x2="503.5" y2="108.5" stroke="#555" stroke-width="0.8"/>
<text x="507" y="111.7" font-size="10.1" textLength="31.7" lengthAdjust="spacingAndGlyphs">0.0010</text>
<line x1="501.5" y1="125.1" x2="503.5" y2="125.1" stroke="#555" stroke-width="0.8"/>
<text x="507" y="128.3" font-size="10.1" textLength="31.7" lengthAdjust="spacingAndGlyphs">0.0005</text>
<line x1="501.5" y1="142.1" x2="503.5" y2="142.1" stroke="#555" stroke-width="0.8"/>
<text x="507" y="145.3" font-size="10.1" textLength="31.7" lengthAdjust="spacingAndGlyphs">0.0000</text>
<line x1="501.5" y1="159.9" x2="503.5" y2="159.9" stroke="#555" stroke-width="0.8"/>
<text x="507" y="163.1" font-size="10.1" textLength="35" lengthAdjust="spacingAndGlyphs">-0.0005</text>
<line x1="501.5" y1="173.8" x2="503.5" y2="173.8" stroke="#555" stroke-width="0.8"/>
<text x="507" y="177" font-size="10.1" textLength="35" lengthAdjust="spacingAndGlyphs">-0.0010</text>
<svg x="43" y="187" width="84" height="71" viewBox="0 0 84 71" overflow="hidden">
<rect x="0" y="0" width="84" height="71" fill="#ececec"/>
<polygon filter="url(#bs)" fill="#f4e4de" points="0,0 40,0 38,28 26,42 18,56 0,58"/>
<polygon filter="url(#bl)" fill="#dcc0a0" points="0,7.3 4.9,6 7.3,14.6 4.9,24.3 4.5,34 0,36"/>
<polygon filter="url(#bl)" fill="#dcc0a0" points="13,9.5 36.4,9.5 26.7,23 23,24.3"/>
<polygon filter="url(#bl)" fill="#f0a888" points="21,9.5 29,9.5 29,20 23.5,21.5"/>
<polygon filter="url(#bs)" fill="#f6efef" points="6,27 9,17 15,13 20,20 12,29"/>
<polygon filter="url(#bl)" fill="#d8c0a0" points="5.3,38 6.1,35 19.8,35 15.3,42.6 12.2,51 9.2,45.7"/>
<polygon filter="url(#bl)" fill="#f0a080" points="5,29 10,27 17,35 15,41 9,41 5,36"/>
<polygon filter="url(#bl)" fill="#f0a888" points="55,7 58,5.5 61,9 58.5,12.5 55.5,11"/>
<polygon filter="url(#bs)" fill="#f4e2dc" points="44,21 61,21 61,36 44,36"/>
<polygon filter="url(#bl)" fill="#e0a080" points="42.7,30.5 48.9,26.7 59.5,30.5 48.9,34.4"/>
<polygon filter="url(#bl)" fill="#d06048" points="46.5,30.5 48.9,29 51.5,30.5 48.9,32"/>
<polygon filter="url(#bl)" fill="#b4b4b4" points="54,21 64,11 72,3 78,7.5 84,13.5 84,24 77,19.5 72,15.5 64,20.5 59,24"/>
<polygon filter="url(#bl)" fill="#8a8a8a" points="68.5,9 72.5,4.5 76.5,9 72.5,13.5"/>
<polygon filter="url(#bl)" fill="#5a5a5a" points="70.5,9.2 72.5,7 74.5,9.2 72.5,11.4"/>
<polygon filter="url(#bl)" fill="#c0c0c0" points="36.6,37.3 59.5,41.1 48.9,45.7 37.4,42.6"/>
<g filter="url(#bl)">
<g stroke="#f070d0" stroke-width="1" fill="none" opacity="0.3">
</g>
<g stroke="#4a3224" stroke-width="1.15" fill="none" opacity="0.85">
<path d="M1.7 6.5H7.1M4.4 3.8V9.2"/>
<path d="M6.3 11.4H11.7M9 8.7V14.1"/>
<path d="M21.5 6.5H26.9M24.2 3.8V9.2"/>
<path d="M25.3 10H30.7M28 7.3V12.7"/>
<path d="M30.3 23.3H35.7M33 20.6V26"/>
<path d="M1.7 28H7.1M4.4 25.3V30.7"/>
<path d="M13.7 28.5H19.1M16.4 25.8V31.2"/>
<path d="M10.3 39.6H15.7M13 36.9V42.3"/>
<path d="M53.8 11.5H59.2M56.5 8.8V14.2"/>
</g></g></svg>
<rect x="43.5" y="187.5" width="84" height="71" fill="none" stroke="#6a6a6a" stroke-width="0.9"/>
<line x1="51.6" y1="258.5" x2="51.6" y2="261.5" stroke="#808080" stroke-width="0.8"/>
<line x1="71.6" y1="258.5" x2="71.6" y2="261.5" stroke="#808080" stroke-width="0.8"/>
<line x1="91.3" y1="258.5" x2="91.3" y2="261.5" stroke="#808080" stroke-width="0.8"/>
<line x1="111.3" y1="258.5" x2="111.3" y2="261.5" stroke="#808080" stroke-width="0.8"/>
<line x1="40" y1="201.2" x2="43.5" y2="201.2" stroke="#808080" stroke-width="0.8"/>
<line x1="40" y1="215.4" x2="43.5" y2="215.4" stroke="#808080" stroke-width="0.8"/>
<line x1="40" y1="229.7" x2="43.5" y2="229.7" stroke="#808080" stroke-width="0.8"/>
<line x1="40" y1="244" x2="43.5" y2="244" stroke="#808080" stroke-width="0.8"/>
<line x1="40" y1="258.3" x2="43.5" y2="258.3" stroke="#808080" stroke-width="0.8"/>
<svg x="136" y="187" width="83" height="71" viewBox="0 0 83 71" overflow="hidden">
<rect x="0" y="0" width="83" height="71" fill="#ebebeb"/>
<polygon filter="url(#bs)" fill="#f5e6e0" points="0,0 60,0 60,34 32,36 32,60 15,60 15,36 0,36"/>
<polygon filter="url(#bl)" fill="#dcaa80" points="7.5,18.3 11.5,13 19.8,11 31,11 40.5,14.5 43.5,19.8 39,25 31,28.5 18.3,29.2 10,26.5"/>
<polygon filter="url(#bl)" fill="#f09080" points="9,18.3 13,14.2 20,12.3 31,12.3 39.5,15.5 42,19.8 38,24 31,27.3 19,28 11.5,25.5"/>
<polygon filter="url(#bl)" fill="#cc3a44" points="14,18.3 19.5,13.8 31,13.3 38.4,17.2 37.6,23.2 31,26.5 19.5,26.8 14.5,22.8"/>
<polygon filter="url(#bl)" fill="#6a0818" points="16.5,19.8 22.9,15.5 32.5,16.3 35.5,20.6 31,23.6 21,23.6"/>
<polygon filter="url(#bl)" fill="#c8c0d0" points="33,8.4 35.9,5 38.8,8.4 35.9,11.5"/>
<polygon filter="url(#bl)" fill="#dcb890" points="57.3,19.8 59.5,17.6 61.7,19.8 59.5,22"/>
<polygon filter="url(#bl)" fill="#b8b8b8" points="43.5,27.5 48.9,22.1 56.5,25.2 62.6,31.3 59.5,34.4 47.3,34.4"/>
<polygon filter="url(#bl)" fill="#a8a8a8" points="13.5,41 22.7,36.3 31.5,41 22.7,45.7"/>
<polygon filter="url(#bl)" fill="#808080" points="16.5,41 22.7,37.8 29,41 22.7,44.2"/>
<polygon filter="url(#bl)" fill="#3a3a3a" points="20.5,41 22.7,39.7 25,41 22.7,42.3"/>
<g filter="url(#bl)">
<g stroke="#f070d0" stroke-width="1" fill="none" opacity="0.3">
</g>
<g stroke="#4a3224" stroke-width="1.15" fill="none" opacity="0.85">
<path d="M4.9 10.7H10.3M7.6 8V13.4"/>
<path d="M12.6 7.3H18M15.3 4.6V10"/>
<path d="M24.8 11.5H30.2M27.5 8.8V14.2"/>
<path d="M28.6 13.7H34M31.3 11V16.4"/>
<path d="M37 11.5H42.4M39.7 8.8V14.2"/>
<path d="M53 11.5H58.4M55.7 8.8V14.2"/>
<path d="M41.6 27.5H47M44.3 24.8V30.2"/>
<path d="M21 49.5H26.4M23.7 46.8V52.2"/>
</g></g></svg>
<rect x="136.5" y="187.5" width="83" height="71" fill="none" stroke="#6a6a6a" stroke-width="0.9"/>
<line x1="144.6" y1="258.5" x2="144.6" y2="261.5" stroke="#808080" stroke-width="0.8"/>
<line x1="164.6" y1="258.5" x2="164.6" y2="261.5" stroke="#808080" stroke-width="0.8"/>
<line x1="184.3" y1="258.5" x2="184.3" y2="261.5" stroke="#808080" stroke-width="0.8"/>
<line x1="204.3" y1="258.5" x2="204.3" y2="261.5" stroke="#808080" stroke-width="0.8"/>
<line x1="133" y1="201.2" x2="136.5" y2="201.2" stroke="#808080" stroke-width="0.8"/>
<line x1="133" y1="215.4" x2="136.5" y2="215.4" stroke="#808080" stroke-width="0.8"/>
<line x1="133" y1="229.7" x2="136.5" y2="229.7" stroke="#808080" stroke-width="0.8"/>
<line x1="133" y1="244" x2="136.5" y2="244" stroke="#808080" stroke-width="0.8"/>
<line x1="133" y1="258.3" x2="136.5" y2="258.3" stroke="#808080" stroke-width="0.8"/>
<svg x="227" y="187" width="84" height="71" viewBox="0 0 84 71" overflow="hidden">
<rect x="0" y="0" width="84" height="71" fill="#e6e6e6"/>
<polygon filter="url(#bs)" fill="#f5e6de" points="0,0 60,0 60,36 44,36 44,69 29,69 29,50 14,50 14,61 0,61"/>
<polygon filter="url(#bs)" fill="#f7efe6" points="20,0 55,0 55,6 20,6"/>
<polygon filter="url(#bl)" fill="#d8a478" points="3,19.8 9.2,15.3 18.3,7.6 22.9,4.6 29,5.3 35.1,9.9 29,13 21.4,14.5 16.8,19.8 15.3,24.4 12.2,26.7 6.1,26.7"/>
<polygon filter="url(#bl)" fill="#e88870" points="5,19.8 10,15.8 18.8,8.8 23,6.2 28.5,7 32,10 28,12 21,13.2 16,18.5 14,23.5 11.5,25.5 7,25.5"/>
<polygon filter="url(#bl)" fill="#d84848" points="20.5,9.9 24.4,6.3 28,9.9 24.4,13.2"/>
<polygon filter="url(#bl)" fill="#d04040" points="4.6,21.4 10.7,20.6 15.3,26.7 14.5,32 9.2,34.4 4.6,32"/>
<polygon filter="url(#bl)" fill="#800a20" points="7.6,26.7 10.7,23.7 13.7,29 12.2,32.8 8.4,32.8"/>
<polygon filter="url(#bl)" fill="#b0b0b0" points="0,38 9.2,36.5 19.8,35 21.4,25.2 29,22.1 36.6,22.9 39.7,28.2 35.1,32 28.2,41.1 32,48.7 25.2,56.4 21.4,51.8 19.8,44.1 9.2,43.4 0,44.1"/>
<polygon filter="url(#bl)" fill="#404040" points="23.7,30.5 35.1,28.2 37.4,30.5 26,32.8"/>
<polygon filter="url(#bl)" fill="#404040" points="7.6,41 16.8,40.8 16.8,42.3 7.6,42.5"/>
<polygon filter="url(#bl)" fill="#404040" points="22.9,46.5 25.2,48.7 24.4,51.8 22.1,51"/>
<polygon filter="url(#bl)" fill="#e89070" points="45.8,30 49.5,28.2 53.4,30 52,36 49.5,38.8 47,36"/>
<polygon filter="url(#bl)" fill="#e0a080" points="33.6,39.6 39.7,38.8 44.3,39.6 43,43.4 35,43.4"/>
<polygon filter="url(#bl)" fill="#d06048" points="38.5,40.5 41,40.5 41,42.5 38.5,42.5"/>
<polygon filter="url(#bl)" fill="#c0c0c0" points="46.5,51 48.1,50 49.7,51 48.1,52"/>
<polygon filter="url(#bl)" fill="#b8b8b8" points="70,10.4 71.8,8.6 73.6,10.4 71.8,12.2"/>
<polygon filter="url(#bl)" fill="#9a9a9a" points="9,69.5 24.4,69.5 24.4,72 9,72"/>
<g filter="url(#bl)">
<g stroke="#f070d0" stroke-width="1" fill="none" opacity="0.3">
</g>
<g stroke="#4a3224" stroke-width="1.15" fill="none" opacity="0.85">
<path d="M1.1 17.6H6.5M3.8 14.9V20.3"/>
<path d="M17.1 30.5H22.5M19.8 27.8V33.2"/>
<path d="M37.8 43.5H43.2M40.5 40.8V46.2"/>
</g></g></svg>
<rect x="227.5" y="187.5" width="84" height="71" fill="none" stroke="#6a6a6a" stroke-width="0.9"/>
<line x1="235.6" y1="258.5" x2="235.6" y2="261.5" stroke="#808080" stroke-width="0.8"/>
<line x1="255.6" y1="258.5" x2="255.6" y2="261.5" stroke="#808080" stroke-width="0.8"/>
<line x1="275.3" y1="258.5" x2="275.3" y2="261.5" stroke="#808080" stroke-width="0.8"/>
<line x1="295.3" y1="258.5" x2="295.3" y2="261.5" stroke="#808080" stroke-width="0.8"/>
<line x1="224" y1="201.2" x2="227.5" y2="201.2" stroke="#808080" stroke-width="0.8"/>
<line x1="224" y1="215.4" x2="227.5" y2="215.4" stroke="#808080" stroke-width="0.8"/>
<line x1="224" y1="229.7" x2="227.5" y2="229.7" stroke="#808080" stroke-width="0.8"/>
<line x1="224" y1="244" x2="227.5" y2="244" stroke="#808080" stroke-width="0.8"/>
<line x1="224" y1="258.3" x2="227.5" y2="258.3" stroke="#808080" stroke-width="0.8"/>
<svg x="318" y="187" width="83" height="71" viewBox="0 0 83 71" overflow="hidden">
<rect x="0" y="0" width="83" height="71" fill="#e2e2e2"/>
<polygon filter="url(#bs)" fill="#f4dfd7" points="0,0 58,0 58,40 0,42"/>
<polygon filter="url(#bs)" fill="#f5e8e1" points="18,40 56,40 56,72 18,72"/>
<polygon filter="url(#bl)" fill="#b8805c" points="17.5,21 35,5 38.5,5.8 42.5,10.5 26,25.8 21,26.5"/>
<polygon filter="url(#bl)" fill="#d85040" points="20,20.8 35,7 38,7.5 40.5,10.5 25.5,24"/>
<polygon filter="url(#bl)" fill="#3a0a10" points="35,10 37,10 37,12 35,12"/>
<polygon filter="url(#bl)" fill="#3a0a10" points="22.8,19.7 24.6,19.7 24.6,21.5 22.8,21.5"/>
<polygon filter="url(#bl)" fill="#c08060" points="8.4,10.4 11.5,8.4 14.5,10.4 11.5,12.2"/>
<polygon filter="url(#bl)" fill="#b87050" points="43.5,30.5 47.3,26.3 51.1,30.5 47.3,34.4"/>
<polygon filter="url(#bl)" fill="#d84840" points="0,29 9.9,29 9.9,38 0,38"/>
<polygon filter="url(#bl)" fill="#c89070" points="9.9,29 15.3,31 9.9,33"/>
<polygon filter="url(#bl)" fill="#c89070" points="18.3,35 21.4,35 20,38 18.5,38"/>
<polygon filter="url(#bl)" fill="#c4c4c4" points="3,47.5 11,40 21,34.5 29,36 33,41.5 27,48.5 19,56.5 10,59.5 3,55"/>
<polygon filter="url(#bl)" fill="#8a8a8a" points="5,47.3 11.5,41 21.2,35.9 28.6,37.4 31.5,41.8 26.5,48 18.7,55.5 10.5,58 5,54"/>
<polygon filter="url(#bl)" fill="#1e1418" points="6.9,47.2 12.2,41.9 21.4,37.3 28.2,38.8 30.5,41.9 26,47.2 18.3,54 10.7,56.4 6.9,53.3"/>
<g filter="url(#bl)">
<g stroke="#f070d0" stroke-width="1" fill="none" opacity="0.3">
</g>
<g stroke="#4a3224" stroke-width="1.15" fill="none" opacity="0.85">
<path d="M12.6 2.3H18M15.3 -0.4V5"/>
<path d="M0.3 24.4H5.7M3 21.7V27.1"/>
<path d="M15.6 21.4H21M18.3 18.7V24.1"/>
<path d="M5.8 30.3H11.2M8.5 27.6V33"/>
</g></g></svg>
<rect x="318.5" y="187.5" width="83" height="71" fill="none" stroke="#6a6a6a" stroke-width="0.9"/>
<line x1="326.6" y1="258.5" x2="326.6" y2="261.5" stroke="#808080" stroke-width="0.8"/>
<line x1="346.6" y1="258.5" x2="346.6" y2="261.5" stroke="#808080" stroke-width="0.8"/>
<line x1="366.3" y1="258.5" x2="366.3" y2="261.5" stroke="#808080" stroke-width="0.8"/>
<line x1="386.3" y1="258.5" x2="386.3" y2="261.5" stroke="#808080" stroke-width="0.8"/>
<line x1="315" y1="201.2" x2="318.5" y2="201.2" stroke="#808080" stroke-width="0.8"/>
<line x1="315" y1="215.4" x2="318.5" y2="215.4" stroke="#808080" stroke-width="0.8"/>
<line x1="315" y1="229.7" x2="318.5" y2="229.7" stroke="#808080" stroke-width="0.8"/>
<line x1="315" y1="244" x2="318.5" y2="244" stroke="#808080" stroke-width="0.8"/>
<line x1="315" y1="258.3" x2="318.5" y2="258.3" stroke="#808080" stroke-width="0.8"/>
<svg x="407" y="187" width="84" height="71" viewBox="0 0 84 71" overflow="hidden">
<rect x="0" y="0" width="84" height="71" fill="#e6e6e6"/>
<polygon filter="url(#bs)" fill="#f4dfd7" points="0,0 40,0 40,36 32,44 32,72 17,72 17,55 9,44 0,44"/>
<polygon filter="url(#bs)" fill="#f6e9df" points="25,0 58,0 58,36 25,36"/>
<polygon filter="url(#bl)" fill="#dcae86" points="3,9.2 7.6,4.6 18.3,3.8 24.4,6.9 25.2,16.8 36.6,19.8 32,27.5 28.2,37 18.3,37 9.2,27.5 3,21.4"/>
<polygon filter="url(#bl)" fill="#e89080" points="4.5,9.5 8.5,5.8 18,5 23,7.5 24,17.8 35,20.5 30.8,27.5 27.3,36 18.5,36 10,27 4.5,21"/>
<polygon filter="url(#bl)" fill="#b82838" points="7.5,6 17.6,4.5 21,10.7 19.5,19.8 25.5,24 29.5,32 24.4,37 18.3,37 11.5,29 8,20"/>
<polygon filter="url(#bl)" fill="#600818" points="9,9.5 13,5.5 17,7.5 18.3,13 16.5,22 12,25 9,18"/>
<polygon filter="url(#bl)" fill="#600818" points="20.5,28.5 25.5,27.5 28,32 24,35 21,33"/>
<polygon filter="url(#bl)" fill="#d89070" points="26,24.4 38.2,19.8 30.5,30.5"/>
<polygon filter="url(#bl)" fill="#b0b0b0" points="35,9.5 37.4,7 39.8,9.5 37.4,12"/>
<polygon filter="url(#bs)" fill="#f3e6df" points="40,21 57,21 57,38 40,38"/>
<polygon filter="url(#bl)" fill="#d0a888" points="46,31 48.5,28.8 51,31 48.5,33.2"/>
<polygon filter="url(#bl)" fill="#a0a0a0" points="67.9,30.5 71.8,27.5 76.3,30.5 76.3,40 71.8,44.2 67.9,40"/>
<polygon filter="url(#bl)" fill="#c0c0c0" points="0,27.5 3,27.5 3,36 0,36"/>
<polygon filter="url(#bs)" fill="#c8c8c8" points="0,40 6,40 6,72 0,72"/>
<polygon filter="url(#bl)" fill="#a8a8a8" points="0,35 6.1,35 10.7,44.2 15.3,51.8 15.3,61 11.5,63.3 9.2,57.9 6.1,50.3 1.5,45.7 0,44.2"/>
<polygon filter="url(#bl)" fill="#a8a8a8" points="30.5,47.2 36.6,44.9 42.7,50.3 52.7,61.7 48.9,64.8 41.2,59.4 32,54.8"/>
<polygon filter="url(#bl)" fill="#505050" points="33.6,50.3 36.6,48.4 40.5,51 36.6,53.3"/>
<polygon filter="url(#bl)" fill="#d4b090" points="22.8,61.7 24.4,60 26,61.7 24.4,63.4"/>
<g filter="url(#bl)">
<g stroke="#f070d0" stroke-width="1" fill="none" opacity="0.3">
</g>
<g stroke="#4a3224" stroke-width="1.15" fill="none" opacity="0.85">
<path d="M12.6 3H18M15.3 0.3V5.7"/>
<path d="M9.5 36.5H14.9M12.2 33.8V39.2"/>
<path d="M25.5 50.3H30.9M28.2 47.6V53"/>
</g></g></svg>
<rect x="407.5" y="187.5" width="84" height="71" fill="none" stroke="#6a6a6a" stroke-width="0.9"/>
<line x1="415.6" y1="258.5" x2="415.6" y2="261.5" stroke="#808080" stroke-width="0.8"/>
<line x1="435.6" y1="258.5" x2="435.6" y2="261.5" stroke="#808080" stroke-width="0.8"/>
<line x1="455.3" y1="258.5" x2="455.3" y2="261.5" stroke="#808080" stroke-width="0.8"/>
<line x1="475.3" y1="258.5" x2="475.3" y2="261.5" stroke="#808080" stroke-width="0.8"/>
<line x1="404" y1="201.2" x2="407.5" y2="201.2" stroke="#808080" stroke-width="0.8"/>
<line x1="404" y1="215.4" x2="407.5" y2="215.4" stroke="#808080" stroke-width="0.8"/>
<line x1="404" y1="229.7" x2="407.5" y2="229.7" stroke="#808080" stroke-width="0.8"/>
<line x1="404" y1="244" x2="407.5" y2="244" stroke="#808080" stroke-width="0.8"/>
<line x1="404" y1="258.3" x2="407.5" y2="258.3" stroke="#808080" stroke-width="0.8"/>
<text x="40.3" y="204.9" font-size="10.4" text-anchor="end" textLength="18" lengthAdjust="spacingAndGlyphs">900</text>
<text x="40.3" y="219.1" font-size="10.4" text-anchor="end" textLength="18" lengthAdjust="spacingAndGlyphs">850</text>
<text x="40.3" y="233.4" font-size="10.4" text-anchor="end" textLength="18" lengthAdjust="spacingAndGlyphs">800</text>
<text x="40.3" y="247.7" font-size="10.4" text-anchor="end" textLength="18" lengthAdjust="spacingAndGlyphs">750</text>
<text x="40.3" y="262" font-size="10.4" text-anchor="end" textLength="18" lengthAdjust="spacingAndGlyphs">700</text>
<rect x="498.3" y="189.6" width="3.3" height="68.8" fill="url(#cb2)"/>
<line x1="501.5" y1="190.7" x2="503.5" y2="190.7" stroke="#555" stroke-width="0.8"/>
<text x="507" y="193.9" font-size="10.1" textLength="31.7" lengthAdjust="spacingAndGlyphs">0.0010</text>
<line x1="501.5" y1="206.8" x2="503.5" y2="206.8" stroke="#555" stroke-width="0.8"/>
<text x="507" y="210" font-size="10.1" textLength="31.7" lengthAdjust="spacingAndGlyphs">0.0005</text>
<line x1="501.5" y1="223.6" x2="503.5" y2="223.6" stroke="#555" stroke-width="0.8"/>
<text x="507" y="226.8" font-size="10.1" textLength="31.7" lengthAdjust="spacingAndGlyphs">0.0000</text>
<line x1="501.5" y1="241.3" x2="503.5" y2="241.3" stroke="#555" stroke-width="0.8"/>
<text x="507" y="244.5" font-size="10.1" textLength="35" lengthAdjust="spacingAndGlyphs">-0.0005</text>
<line x1="501.5" y1="255.2" x2="503.5" y2="255.2" stroke="#555" stroke-width="0.8"/>
<text x="507" y="258.4" font-size="10.1" textLength="35" lengthAdjust="spacingAndGlyphs">-0.0010</text>
<text x="51.6" y="270.3" font-size="10.4" text-anchor="middle" textLength="5.6" lengthAdjust="spacingAndGlyphs">5</text>
<text x="71.6" y="270.3" font-size="10.4" text-anchor="middle" textLength="11.8" lengthAdjust="spacingAndGlyphs">10</text>
<text x="91.3" y="270.3" font-size="10.4" text-anchor="middle" textLength="11.8" lengthAdjust="spacingAndGlyphs">15</text>
<text x="111.3" y="270.3" font-size="10.4" text-anchor="middle" textLength="11.8" lengthAdjust="spacingAndGlyphs">20</text>
<text x="144.6" y="270.3" font-size="10.4" text-anchor="middle" textLength="5.6" lengthAdjust="spacingAndGlyphs">5</text>
<text x="164.6" y="270.3" font-size="10.4" text-anchor="middle" textLength="11.8" lengthAdjust="spacingAndGlyphs">10</text>
<text x="184.3" y="270.3" font-size="10.4" text-anchor="middle" textLength="11.8" lengthAdjust="spacingAndGlyphs">15</text>
<text x="204.3" y="270.3" font-size="10.4" text-anchor="middle" textLength="11.8" lengthAdjust="spacingAndGlyphs">20</text>
<text x="235.6" y="270.3" font-size="10.4" text-anchor="middle" textLength="5.6" lengthAdjust="spacingAndGlyphs">5</text>
<text x="255.6" y="270.3" font-size="10.4" text-anchor="middle" textLength="11.8" lengthAdjust="spacingAndGlyphs">10</text>
<text x="275.3" y="270.3" font-size="10.4" text-anchor="middle" textLength="11.8" lengthAdjust="spacingAndGlyphs">15</text>
<text x="295.3" y="270.3" font-size="10.4" text-anchor="middle" textLength="11.8" lengthAdjust="spacingAndGlyphs">20</text>
<text x="326.6" y="270.3" font-size="10.4" text-anchor="middle" textLength="5.6" lengthAdjust="spacingAndGlyphs">5</text>
<text x="346.6" y="270.3" font-size="10.4" text-anchor="middle" textLength="11.8" lengthAdjust="spacingAndGlyphs">10</text>
<text x="366.3" y="270.3" font-size="10.4" text-anchor="middle" textLength="11.8" lengthAdjust="spacingAndGlyphs">15</text>
<text x="386.3" y="270.3" font-size="10.4" text-anchor="middle" textLength="11.8" lengthAdjust="spacingAndGlyphs">20</text>
<text x="415.6" y="270.3" font-size="10.4" text-anchor="middle" textLength="5.6" lengthAdjust="spacingAndGlyphs">5</text>
<text x="435.6" y="270.3" font-size="10.4" text-anchor="middle" textLength="11.8" lengthAdjust="spacingAndGlyphs">10</text>
<text x="455.3" y="270.3" font-size="10.4" text-anchor="middle" textLength="11.8" lengthAdjust="spacingAndGlyphs">15</text>
<text x="475.3" y="270.3" font-size="10.4" text-anchor="middle" textLength="11.8" lengthAdjust="spacingAndGlyphs">20</text>
<text x="85.5" y="16.9" font-size="11" text-anchor="middle" textLength="34" lengthAdjust="spacingAndGlyphs">10-11N</text>
<text x="178" y="16.9" font-size="11" text-anchor="middle" textLength="34" lengthAdjust="spacingAndGlyphs">11-12N</text>
<text x="269.5" y="16.9" font-size="11" text-anchor="middle" textLength="34" lengthAdjust="spacingAndGlyphs">12-13N</text>
<text x="360" y="16.9" font-size="11" text-anchor="middle" textLength="34" lengthAdjust="spacingAndGlyphs">13-14N</text>
<text x="449.5" y="16.9" font-size="11" text-anchor="middle" textLength="34" lengthAdjust="spacingAndGlyphs">14-15N</text>
<text x="220.3" y="290" font-size="11" textLength="97" lengthAdjust="spacingAndGlyphs">Soil moisture&#160; (vol%)</text>
<g transform="translate(13.7,80.3) rotate(-90)"><text x="0" y="0" font-size="10" textLength="12.3" lengthAdjust="spacingAndGlyphs">RH</text><text x="14.7" y="-4.6" font-size="4.3" textLength="9.6" lengthAdjust="spacingAndGlyphs" style="stroke-width:0.1px">600</text><text x="14.7" y="1.0" font-size="4.3" textLength="9.6" lengthAdjust="spacingAndGlyphs" style="stroke-width:0.1px">850</text><text x="28" y="0.6" font-size="8.4" textLength="12.7" lengthAdjust="spacingAndGlyphs">(%)</text></g>
<g transform="translate(13.7,161.2) rotate(-90)"><text x="0" y="0" font-size="10" textLength="15.8" lengthAdjust="spacingAndGlyphs">LCL</text><text x="21.5" y="-1.9" font-size="8" textLength="18.7" lengthAdjust="spacingAndGlyphs">(hPa)</text></g>
<g transform="translate(14.1,240.3) rotate(-90)"><text x="0" y="0" font-size="10" textLength="16.7" lengthAdjust="spacingAndGlyphs">BLH</text><text x="24.1" y="-1.9" font-size="8" textLength="19.7" lengthAdjust="spacingAndGlyphs">(hPa)</text></g>
</svg></body></html>
